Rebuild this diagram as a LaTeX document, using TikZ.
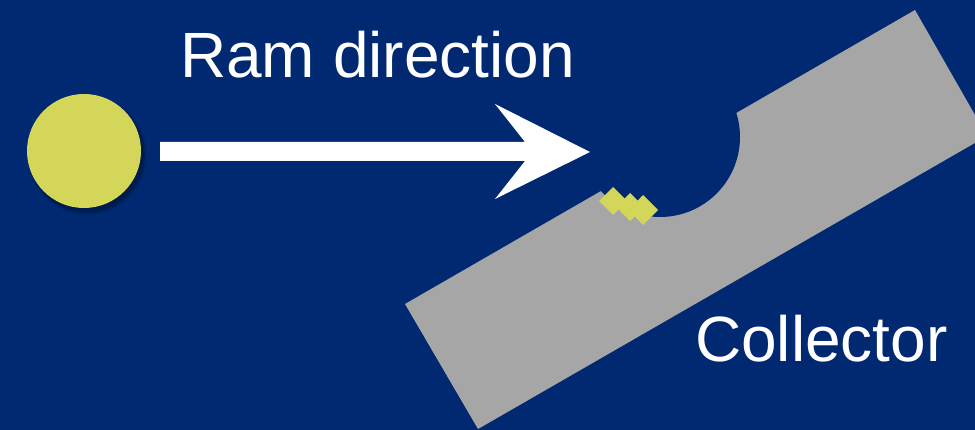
\documentclass[tikz,border=0pt]{standalone}
\usepackage{fontspec}
\setmainfont{Liberation Sans}
\definecolor{bgblue}{RGB}{0,41,114}
\definecolor{ballyellow}{RGB}{212,214,90}
\definecolor{collgray}{RGB}{166,166,166}
\tikzset{
  label text/.style={text=white, inner sep=0pt, font=\fontsize{64}{70}\selectfont},
  grain/.style={fill=ballyellow, draw=none},
}
\begin{document}
\begin{tikzpicture}[x=1pt,y=-1pt]
\useasboundingbox (0,0) rectangle (975,430);
\clip (0,0) rectangle (975,430);
\fill[bgblue] (0,0) rectangle (975,430);
% collector
\fill[collgray] (405,304) -- (915,10) -- (987,136) -- (478,429) -- cycle;
\fill[bgblue] (660,137) circle[radius=80];
% ball with soft shadow
\foreach \r/\o in {60/0.06,59/0.08,58/0.1,57/0.12}
  \fill[black, opacity=\o] (87,155) circle[radius=\r];
\fill[ballyellow] (84,151) circle[radius=57];
% arrow
\fill[white] (160,142) -- (525,142) -- (495,104) -- (590,152) -- (495,199) -- (525,161) -- (160,161) -- cycle;
% grains
\fill[grain] (599,201) -- (613,187) -- (627,201) -- (613,215) -- cycle;
\fill[grain] (616,207) -- (630,193) -- (644,207) -- (630,221) -- cycle;
\fill[grain] (629,210) -- (643,195) -- (658,210) -- (643,225) -- cycle;
% labels
\node[label text, anchor=base west] (ram) at (180,78) {Ram direction};
\node[label text, anchor=base west] (coll) at (695,362) {Collector};
\end{tikzpicture}
\end{document}
